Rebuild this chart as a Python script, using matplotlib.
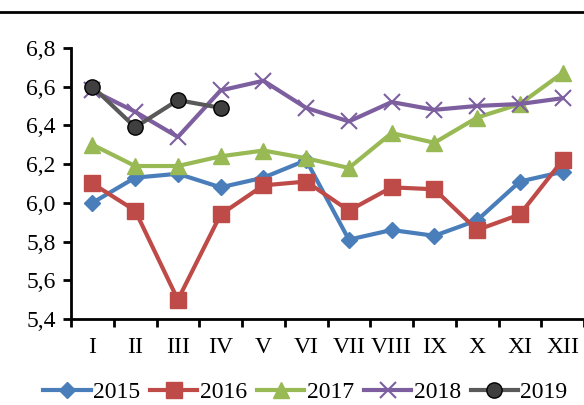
import numpy as np
import matplotlib
matplotlib.use('Agg')
import matplotlib.pyplot as plt
from matplotlib.lines import Line2D

plt.rcParams['font.family'] = ['Liberation Serif', 'DejaVu Serif']

months = ['I', 'II', 'III', 'IV', 'V', 'VI', 'VII', 'VIII', 'IX', 'X', 'XI', 'XII']
y2015 = [6.00, 6.13, 6.15, 6.08, 6.13, 6.22, 5.81, 5.86, 5.83, 5.91, 6.11, 6.16]
y2016 = [6.10, 5.96, 5.50, 5.94, 6.09, 6.11, 5.96, 6.08, 6.07, 5.86, 5.94, 6.22]
y2017 = [6.30, 6.19, 6.19, 6.24, 6.27, 6.23, 6.18, 6.36, 6.31, 6.44, 6.51, 6.67]
y2018 = [6.58, 6.47, 6.34, 6.58, 6.63, 6.49, 6.42, 6.52, 6.48, 6.50, 6.51, 6.54]
y2019 = [6.60, 6.39, 6.53, 6.49]

fig = plt.figure(figsize=(5.84, 4.05), dpi=100)
ax = fig.add_axes([0.1216, 0.212, 0.8784, 0.670])

x = np.arange(len(months))
ax.plot(x, y2015, color='#4A7EBB', lw=3, marker='D', ms=8, label='2015')
ax.plot(x, y2016, color='#BE4B48', lw=3, marker='s', ms=11, label='2016')
ax.plot(x, y2017, color='#98B954', lw=3, marker='^', ms=11, label='2017')
ax.plot(x, y2018, color='#7D5FA0', lw=3, marker='x', ms=11, mew=1.5, label='2018')
ax.plot(x[:len(y2019)], y2019, color='#595959', lw=3, marker='o', ms=11,
        mfc='#3F3F3F', mec='black', mew=1, label='2019')

ax.set_xlim(-0.5, 11.5)
ax.set_ylim(5.4, 6.8)
yt = np.arange(5.4, 6.81, 0.2)
ax.set_yticks(yt)
ax.set_yticklabels([('%.1f' % v).replace('.', ',') for v in yt])
ax.set_xticks(x)
ax.set_xticklabels(months)
ax.set_xticks(np.arange(-0.5, 11.6, 1), minor=True)
ax.tick_params(axis='x', which='major', length=0, pad=13, labelsize=17)
ax.tick_params(axis='x', which='minor', length=6, width=2, direction='out')
ax.tick_params(axis='y', length=6, width=2, direction='out', labelsize=17, pad=5)

ax.spines['top'].set_visible(False)
ax.spines['right'].set_visible(False)
ax.spines['left'].set_linewidth(2)
ax.spines['bottom'].set_linewidth(2)

# line across the top of the figure
fig.add_artist(Line2D([0, 1], [0.970, 0.970], color='black', lw=2))

fig.legend(loc='center', bbox_to_anchor=(0.523, 0.032), ncol=5, frameon=False,
           fontsize=17, handlelength=2.0, handletextpad=0.1, columnspacing=0.43,
           borderpad=0, borderaxespad=0)

fig.savefig('out.png', dpi=100)
